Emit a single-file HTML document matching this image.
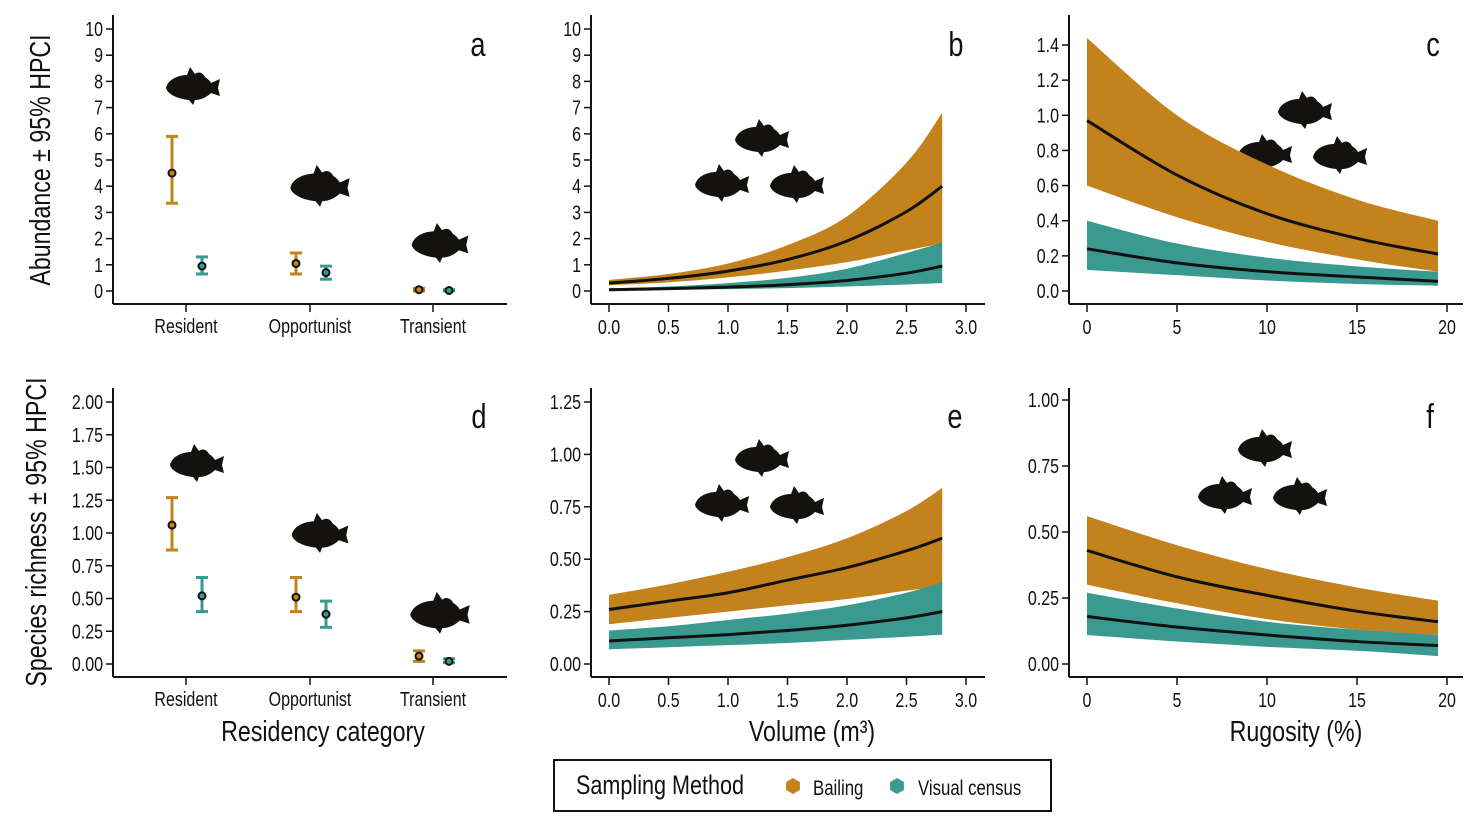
<!DOCTYPE html>
<html><head><meta charset="utf-8">
<style>
html,body{margin:0;padding:0;background:#fff;}
svg{display:block;font-family:"Liberation Sans Narrow","Liberation Sans",sans-serif;}
</style></head>
<body>
<svg id="fig" width="1471" height="821" viewBox="0 0 1471 821"></svg>
<script>
const BAIL="#c4821c", VIS="#3a9a8f";
const categories=["Resident","Opportunist","Transient"];
const abundBailMean=[4.5,1.05,0.05], abundBailLo=[3.35,0.65,0.0], abundBailHi=[5.9,1.45,0.1];
const abundVisMean=[0.95,0.7,0.02], abundVisLo=[0.65,0.45,0.0], abundVisHi=[1.3,0.95,0.05];
const richBailMean=[1.06,0.51,0.06], richBailLo=[0.87,0.4,0.02], richBailHi=[1.27,0.66,0.1];
const richVisMean=[0.52,0.38,0.02], richVisLo=[0.4,0.28,0.01], richVisHi=[0.66,0.48,0.04];
const volX=[0,0.5,1.0,1.5,2.0,2.5,2.8];
const bBailMean=[0.3,0.48,0.76,1.2,1.91,3.03,4.0];
const bBailHi=[0.42,0.65,1.05,1.75,2.85,4.9,6.8];
const bBailLo=[0.22,0.33,0.52,0.78,1.1,1.55,1.82];
const bVisMean=[0.05,0.09,0.15,0.24,0.4,0.68,0.95];
const bVisHi=[0.1,0.17,0.3,0.5,0.85,1.45,1.85];
const bVisLo=[0.02,0.04,0.07,0.11,0.17,0.25,0.3];
const eBailMean=[0.26,0.3,0.34,0.4,0.46,0.54,0.6];
const eBailHi=[0.33,0.38,0.44,0.51,0.6,0.73,0.84];
const eBailLo=[0.19,0.22,0.25,0.28,0.31,0.35,0.37];
const eVisMean=[0.11,0.125,0.14,0.16,0.185,0.22,0.25];
const eVisHi=[0.16,0.18,0.21,0.24,0.28,0.34,0.39];
const eVisLo=[0.07,0.08,0.09,0.1,0.115,0.13,0.14];
const rugX=[0,5,10,15,19.5];
const cBailMean=[0.97,0.66,0.44,0.3,0.21];
const cBailHi=[1.44,1.0,0.72,0.52,0.4];
const cBailLo=[0.6,0.42,0.28,0.18,0.11];
const cVisMean=[0.24,0.16,0.11,0.08,0.055];
const cVisHi=[0.4,0.27,0.19,0.14,0.11];
const cVisLo=[0.12,0.09,0.06,0.04,0.03];
const fBailMean=[0.43,0.33,0.26,0.2,0.16];
const fBailHi=[0.56,0.45,0.36,0.29,0.24];
const fBailLo=[0.3,0.23,0.17,0.13,0.11];
const fVisMean=[0.18,0.14,0.11,0.085,0.07];
const fVisHi=[0.27,0.21,0.16,0.13,0.11];
const fVisLo=[0.11,0.085,0.065,0.05,0.03];
const ticksAbund=["0","1","2","3","4","5","6","7","8","9","10"];
const ticksC=["0.0","0.2","0.4","0.6","0.8","1.0","1.2","1.4"];
const ticksD=["0.00","0.25","0.50","0.75","1.00","1.25","1.50","1.75","2.00"];
const ticksE=["0.00","0.25","0.50","0.75","1.00","1.25"];
const ticksF=["0.00","0.25","0.50","0.75","1.00"];
const ticksVol=["0.0","0.5","1.0","1.5","2.0","2.5","3.0"];
const ticksRug=["0","5","10","15","20"];

const NS="http://www.w3.org/2000/svg";
const SX=0.8;
const svg=document.getElementById('fig');
function mk(tag,attrs,parent,text){const e=document.createElementNS(NS,tag);for(const k in attrs)e.setAttribute(k,attrs[k]);if(text!==undefined)e.textContent=text;(parent||svg).appendChild(e);return e;}
function txt(parent,x,y,t,size,anchor,rot){
  const tr=`translate(${x},${y})`+(rot?' rotate(-90)':'')+` scale(${SX},1)`;
  return mk('text',{x:0,y:0,'font-size':size,'text-anchor':anchor||'start',fill:'#111',transform:tr},parent,t);
}
// smooth path through points (Catmull-Rom -> Bezier), rendering only
function smooth(pts){
  let d='M'+pts[0][0]+','+pts[0][1];
  for(let i=0;i<pts.length-1;i++){
    const p0=pts[Math.max(0,i-1)],p1=pts[i],p2=pts[i+1],p3=pts[Math.min(pts.length-1,i+2)];
    const c1=[p1[0]+(p2[0]-p0[0])/6,p1[1]+(p2[1]-p0[1])/6];
    const c2=[p2[0]-(p3[0]-p1[0])/6,p2[1]-(p3[1]-p1[1])/6];
    d+=` C${c1[0]},${c1[1]} ${c2[0]},${c2[1]} ${p2[0]},${p2[1]}`;
  }
  return d;
}
function drawYAxis(g,ax,top,bottom,ys,ticks){
  const l=mk('line',{x1:ax,y1:top,x2:ax,y2:bottom,stroke:'#111','stroke-width':2},g);
  
  ticks.forEach(t=>{const y=ys(parseFloat(t));
    mk('line',{x1:ax-7,y1:y,x2:ax,y2:y,stroke:'#111','stroke-width':1.5},g);
    const tx=txt(g,ax-10,y+7,t,20,'end');
    });
}
function drawXAxis(g,ay,left,right,xs,ticks,ly){
  const l=mk('line',{x1:left,y1:ay,x2:right,y2:ay,stroke:'#111','stroke-width':2},g);
  
  ticks.forEach((t,i)=>{const x=xs(t,i);
    mk('line',{x1:x,y1:ay,x2:x,y2:ay+8,stroke:'#111','stroke-width':1.5},g);
    const tx=txt(g,x,ly,t,20,'middle');
    });
}
function fish(g,cx,cy,s){
  const d="M-27,0 C-25,-9 -14,-13 -6,-13 L-3,-21 L2,-14 C6,-17 10,-15 12,-11 C15,-9 17,-7 18,-5 L27,-9 L25,0 L27,8 L18,5 C14,9 8,12 2,12 L0,17 L-4,12 C-14,11 -25,7 -27,0 Z";
  const p=mk('path',{d:d,fill:'#14120e',transform:`translate(${cx},${cy}) scale(${s})`},g);
  
}
function letter(g,x,y,t){const e=txt(g,x,y,t,34,'middle');
  }
function newPanel(id){const g=mk('g',{});return g;}

function catPanel(id,ax,ay0,ayTop,yv1,ticks,xAxisY,top,bM,bL,bH,vM,vL,vH,fishes){
  const g=newPanel(id);const ys=v=>ay0+v/yv1*(ayTop-ay0);
  const catX=[186,310,433];
  drawYAxis(g,ax,top,xAxisY,ys,ticks);
  drawXAxis(g,xAxisY,ax,507,(t,i)=>catX[i],categories,xAxisY+29);
  fishes.forEach(f=>fish(g,f[0],f[1],f[2]));
  const series=[[bM,bL,bH,BAIL,-14,'bailing'],[vM,vL,vH,VIS,16,'visual']];
  series.forEach(s=>{categories.forEach((c,i)=>{
    const x=catX[i]+s[4];
    const eb=mk('g',{},g);
    mk('line',{x1:x,y1:ys(s[1][i]),x2:x,y2:ys(s[2][i]),stroke:s[3],'stroke-width':3},eb);
    mk('line',{x1:x-6,y1:ys(s[1][i]),x2:x+6,y2:ys(s[1][i]),stroke:s[3],'stroke-width':3},eb);
    mk('line',{x1:x-6,y1:ys(s[2][i]),x2:x+6,y2:ys(s[2][i]),stroke:s[3],'stroke-width':3},eb);
    const pt=mk('circle',{cx:x,cy:ys(s[0][i]),r:3.5,fill:s[3],stroke:'#111','stroke-width':2},g);
    
  });});
  return g;
}
function contPanel(id,ax,ay0,ayTop,yv1,ticks,xAxisY,top,x0px,xv1px,xv1,xTicks,xData,series,fishes){
  const g=newPanel(id);const ys=v=>ay0+v/yv1*(ayTop-ay0);
  const xs=v=>x0px+v/xv1*(xv1px-x0px);
  drawYAxis(g,ax,top,xAxisY,ys,ticks);
  drawXAxis(g,xAxisY,ax,ax+394,t=>xs(parseFloat(t)),xTicks,xAxisY+30);
  fishes.forEach(f=>fish(g,f[0],f[1],f[2]));
  series.forEach(s=>{
    const hi=xData.map((x,i)=>[xs(x),ys(s.hi[i])]);
    const lo=xData.map((x,i)=>[xs(x),ys(s.lo[i])]).reverse();
    const d=smooth(hi)+' L'+smooth(lo).slice(1)+' Z';
    const band=mk('path',{d:d,fill:s.c},g);
    
  });
  series.forEach(s=>{
    const line=mk('path',{d:smooth(xData.map((x,i)=>[xs(x),ys(s.m[i])])),fill:'none',stroke:'#111','stroke-width':3},g);
    
  });
  return g;
}

let ga=catPanel('a',113,291,29,10,ticksAbund,304,15,abundBailMean,abundBailLo,abundBailHi,abundVisMean,abundVisLo,abundVisHi,[[193,88,1.0],[320,188,1.1],[440,245,1.05]]);
letter(ga,478,56,'a');
let gb=contPanel('b',591,291,29,10,ticksAbund,304,15,609,966,3,ticksVol,volX,
 [{n:'bailing',c:BAIL,m:bBailMean,hi:bBailHi,lo:bBailLo},{n:'visual',c:VIS,m:bVisMean,hi:bVisHi,lo:bVisLo}],
 [[762,140,1.0],[722,185,1.0],[797,186,1.0]]);
letter(gb,956,56,'b');
let gc=contPanel('c',1069,291,45,1.4,ticksC,304,15,1087,1447,20,ticksRug,rugX,
 [{n:'bailing',c:BAIL,m:cBailMean,hi:cBailHi,lo:cBailLo},{n:'visual',c:VIS,m:cVisMean,hi:cVisHi,lo:cVisLo}],
 [[1305,112,1.0],[1265,155,1.0],[1340,157,1.0]]);
letter(gc,1433,56,'c');
let gd=catPanel('d',113,664,402,2,ticksD,677,388,richBailMean,richBailLo,richBailHi,richVisMean,richVisLo,richVisHi,[[197,465,1.0],[320,535,1.05],[440,615,1.1]]);
letter(gd,479,428,'d');
let ge=contPanel('e',591,664,402,1.25,ticksE,677,388,609,966,3,ticksVol,volX,
 [{n:'bailing',c:BAIL,m:eBailMean,hi:eBailHi,lo:eBailLo},{n:'visual',c:VIS,m:eVisMean,hi:eVisHi,lo:eVisLo}],
 [[762,460,1.0],[722,505,1.0],[797,507,1.0]]);
letter(ge,955,428,'e');
let gf=contPanel('f',1069,664,400,1.0,ticksF,677,388,1087,1447,20,ticksRug,rugX,
 [{n:'bailing',c:BAIL,m:fBailMean,hi:fBailHi,lo:fBailLo},{n:'visual',c:VIS,m:fVisMean,hi:fVisHi,lo:fVisLo}],
 [[1265,450,1.0],[1225,497,1.0],[1300,498,1.0]]);
letter(gf,1430,428,'f');

function title(x,y,t,name,rot){const e=txt(svg,x,y,t,29,'middle',rot);
  return e;}
title(50,160,'Abundance ± 95% HPCI','y-axis-title-abundance',true);
title(46,532,'Species richness ± 95% HPCI','y-axis-title-richness',true);
title(323,741,'Residency category','x-axis-title-residency');
title(812,741,'Volume (m³)','x-axis-title-volume');
title(1296,741,'Rugosity (%)','x-axis-title-rugosity');

const lg=mk('g',{});


mk('rect',{x:554,y:760,width:497,height:51,fill:'#fff',stroke:'#111','stroke-width':2},lg);
const lt=txt(lg,576,794,'Sampling Method',27,'start');


function hex(cx,cy,c){const pts=[];for(let k=0;k<6;k++){const a=Math.PI/3*k+Math.PI/6;pts.push((cx+8*Math.cos(a)).toFixed(1)+','+(cy+8*Math.sin(a)).toFixed(1));}return mk('polygon',{points:pts.join(' '),fill:c},lg);}
const le1=mk('g',{},lg);


hex(793,786,BAIL);
txt(le1,813,795,'Bailing',21,'start');
const le2=mk('g',{},lg);


hex(897,786,VIS);
txt(le2,918,795,'Visual census',21,'start');
</script>
</body></html>
